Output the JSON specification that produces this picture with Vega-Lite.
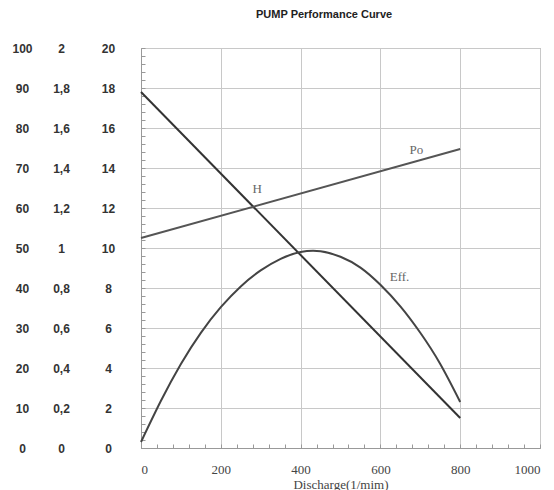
{
  "$schema": "https://vega.github.io/schema/vega-lite/v6.json",
  "width": 399,
  "height": 400,
  "autosize": {"type": "none"},
  "padding": {"left": 141, "top": 48, "right": 14, "bottom": 42},
  "background": "white",
  "title": {
    "text": "PUMP Performance Curve",
    "anchor": "start",
    "frame": "group",
    "dx": 115,
    "offset": 22,
    "font": "Liberation Sans",
    "fontSize": 11,
    "fontWeight": "bold",
    "color": "#222"
  },
  "config": {
    "view": {"stroke": "#999", "strokeWidth": 1},
    "axis": {"gridColor": "#c8c8c8", "gridWidth": 1, "domainColor": "#999", "tickColor": "#999"}
  },
  "datasets": {
    "curves": [
      {"series": "H", "q": 0, "v": 17.8},
      {"series": "H", "q": 800, "v": 1.5},
      {"series": "Po", "q": 0, "v": 1.05},
      {"series": "Po", "q": 800, "v": 1.495},
      {"series": "Eff", "q": 0, "v": 1.5},
      {"series": "Eff", "q": 50, "v": 11.8},
      {"series": "Eff", "q": 100, "v": 21},
      {"series": "Eff", "q": 150, "v": 28.8},
      {"series": "Eff", "q": 200, "v": 35.2},
      {"series": "Eff", "q": 250, "v": 40.4},
      {"series": "Eff", "q": 300, "v": 44.4},
      {"series": "Eff", "q": 350, "v": 47.3},
      {"series": "Eff", "q": 400, "v": 49},
      {"series": "Eff", "q": 450, "v": 49.2},
      {"series": "Eff", "q": 500, "v": 47.8},
      {"series": "Eff", "q": 550, "v": 45.1},
      {"series": "Eff", "q": 600, "v": 40.8},
      {"series": "Eff", "q": 650, "v": 35.4},
      {"series": "Eff", "q": 700, "v": 28.8},
      {"series": "Eff", "q": 750, "v": 21},
      {"series": "Eff", "q": 800, "v": 11.5}
    ],
    "labels": [
      {"q": 291, "y": 12.95, "text": "H"},
      {"q": 690, "y": 14.9, "text": "Po"},
      {"q": 648, "y": 8.55, "text": "Eff."}
    ]
  },
  "encoding": {
    "x": {
      "field": "q", "type": "quantitative",
      "scale": {"domain": [0, 1000], "nice": false},
      "axis": {
        "title": "Discharge(1/mim)",
        "titleFont": "Liberation Serif", "titleFontSize": 13, "titleFontWeight": "normal", "titleColor": "#444",
        "titlePadding": 2,
        "values": [0,40,80,120,160,200,240,280,320,360,400,440,480,520,560,600,640,680,720,760,800,840,880,920,960,1000],
        "labelExpr": "datum.value % 200 === 0 ? format(datum.value, 'd') : ''",
        "labelOverlap": false,
        "labelFont": "Liberation Serif", "labelFontSize": 13, "labelColor": "#444",
        "labelPadding": 19,
        "tickSize": -4,
        "grid": true,
        "gridOpacity": {"condition": {"test": "datum.value % 200 === 0", "value": 1}, "value": 0},
        "domain": true
      }
    }
  },
  "layer": [
    {
      "data": {"name": "curves"},
      "transform": [{"filter": "datum.series === 'H'"}],
      "mark": {"type": "line", "color": "#333", "strokeWidth": 2},
      "encoding": {
        "y": {
          "field": "v", "type": "quantitative",
          "scale": {"domain": [0, 20], "nice": false},
          "axis": {
            "title": null,
            "orient": "left",
            "values": [0,0.4,0.8,1.2,1.6,2,2.4,2.8,3.2,3.6,4,4.4,4.8,5.2,5.6,6,6.4,6.8,7.2,7.6,8,8.4,8.8,9.2,9.6,10,10.4,10.8,11.2,11.6,12,12.4,12.8,13.2,13.6,14,14.4,14.8,15.2,15.6,16,16.4,16.8,17.2,17.6,18,18.4,18.8,19.2,19.6,20],
            "labelExpr": "datum.value % 2 === 0 ? format(datum.value, 'd') : ''",
            "labelOverlap": false,
            "labelAlign": "center",
            "labelPadding": 37,
            "labelFont": "Liberation Sans", "labelFontSize": 12, "labelFontWeight": "bold", "labelColor": "#333",
            "tickSize": -4,
            "grid": true,
            "gridOpacity": {"condition": {"test": "datum.value % 2 === 0", "value": 1}, "value": 0},
            "domain": true
          }
        }
      }
    },
    {
      "data": {"name": "curves"},
      "transform": [{"filter": "datum.series === 'Po'"}],
      "mark": {"type": "line", "color": "#555", "strokeWidth": 2},
      "encoding": {
        "y": {
          "field": "v", "type": "quantitative",
          "scale": {"domain": [0, 2], "nice": false},
          "axis": {
            "title": null,
            "orient": "left",
            "values": [0, 0.2, 0.4, 0.6, 0.8, 1, 1.2, 1.4, 1.6, 1.8, 2],
            "labelExpr": "replace(format(datum.value, '~g'), '.', ',')",
            "labelAlign": "center",
            "labelPadding": 80,
            "labelFont": "Liberation Sans", "labelFontSize": 12, "labelFontWeight": "bold", "labelColor": "#333",
            "ticks": false, "tickSize": 0, "domain": false, "grid": false
          }
        }
      }
    },
    {
      "data": {"name": "curves"},
      "transform": [{"filter": "datum.series === 'Eff'"}],
      "mark": {"type": "line", "color": "#444", "strokeWidth": 2, "interpolate": "natural"},
      "encoding": {
        "y": {
          "field": "v", "type": "quantitative",
          "scale": {"domain": [0, 100], "nice": false},
          "axis": {
            "title": null,
            "orient": "left",
            "values": [0, 10, 20, 30, 40, 50, 60, 70, 80, 90, 100],
            "labelAlign": "center",
            "labelPadding": 119,
            "labelFont": "Liberation Sans", "labelFontSize": 12, "labelFontWeight": "bold", "labelColor": "#333",
            "ticks": false, "tickSize": 0, "domain": false, "grid": false
          }
        }
      }
    },
    {
      "data": {"name": "labels"},
      "mark": {"type": "text", "font": "Liberation Serif", "fontSize": 13, "color": "#666", "baseline": "middle", "align": "center"},
      "encoding": {
        "y": {"field": "y", "type": "quantitative", "scale": {"domain": [0, 20], "nice": false}, "axis": null},
        "text": {"field": "text"}
      }
    }
  ],
  "resolve": {"scale": {"y": "independent"}, "axis": {"y": "independent"}}
}
